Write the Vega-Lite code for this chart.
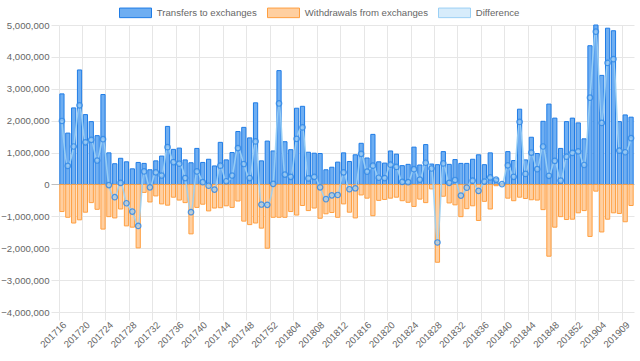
{
  "$schema": "https://vega.github.io/schema/vega-lite/v6.json",
  "width": 575,
  "height": 287,
  "autosize": "none",
  "padding": {"left": 59, "top": 25, "right": 6, "bottom": 49},
  "config": {
    "view": {"stroke": null},
    "font": "Liberation Sans",
    "axisY": {
      "title": null,
      "domain": false,
      "labelFontSize": 9.6,
      "labelColor": "#666666",
      "labelPadding": 2,
      "tickSize": 8,
      "tickColor": {"condition": {"test": "datum.value === 0", "value": "#bfbfbf"}, "value": "#e6e6e6"},
      "gridColor": {"condition": {"test": "datum.value === 0", "value": "#bfbfbf"}, "value": "#e6e6e6"}
    }
  },
  "data": {
    "values": [
      {"week":"201716","in":2840000,"out":-850000,"diff":1990000},
      {"week":"201717","in":1610000,"out":-1030000,"diff":580000},
      {"week":"201718","in":2400000,"out":-1210000,"diff":1190000},
      {"week":"201719","in":3590000,"out":-1110000,"diff":2480000},
      {"week":"201720","in":2190000,"out":-870000,"diff":1320000},
      {"week":"201721","in":1970000,"out":-570000,"diff":1400000},
      {"week":"201722","in":1530000,"out":-780000,"diff":750000},
      {"week":"201723","in":2820000,"out":-1400000,"diff":1420000},
      {"week":"201724","in":990000,"out":-1010000,"diff":-20000},
      {"week":"201725","in":650000,"out":-1050000,"diff":-400000},
      {"week":"201726","in":820000,"out":-770000,"diff":50000},
      {"week":"201727","in":710000,"out":-1300000,"diff":-590000},
      {"week":"201728","in":490000,"out":-1340000,"diff":-850000},
      {"week":"201729","in":690000,"out":-1990000,"diff":-1300000},
      {"week":"201730","in":660000,"out":-250000,"diff":410000},
      {"week":"201731","in":460000,"out":-550000,"diff":-90000},
      {"week":"201732","in":740000,"out":-360000,"diff":380000},
      {"week":"201733","in":890000,"out":-610000,"diff":280000},
      {"week":"201734","in":1820000,"out":-650000,"diff":1170000},
      {"week":"201735","in":1100000,"out":-400000,"diff":700000},
      {"week":"201736","in":1140000,"out":-490000,"diff":650000},
      {"week":"201737","in":770000,"out":-570000,"diff":200000},
      {"week":"201738","in":680000,"out":-1550000,"diff":-870000},
      {"week":"201739","in":1130000,"out":-720000,"diff":410000},
      {"week":"201740","in":690000,"out":-620000,"diff":70000},
      {"week":"201741","in":790000,"out":-830000,"diff":-40000},
      {"week":"201742","in":580000,"out":-740000,"diff":-160000},
      {"week":"201743","in":1320000,"out":-730000,"diff":590000},
      {"week":"201744","in":770000,"out":-670000,"diff":100000},
      {"week":"201745","in":1000000,"out":-720000,"diff":280000},
      {"week":"201746","in":1660000,"out":-520000,"diff":1140000},
      {"week":"201747","in":1790000,"out":-1150000,"diff":640000},
      {"week":"201748","in":1460000,"out":-1260000,"diff":200000},
      {"week":"201749","in":2560000,"out":-1210000,"diff":1350000},
      {"week":"201750","in":740000,"out":-1370000,"diff":-630000},
      {"week":"201751","in":1360000,"out":-2000000,"diff":-640000},
      {"week":"201752","in":1050000,"out":-1030000,"diff":20000},
      {"week":"201801","in":3570000,"out":-1030000,"diff":2540000},
      {"week":"201802","in":1340000,"out":-1030000,"diff":310000},
      {"week":"201803","in":1090000,"out":-850000,"diff":240000},
      {"week":"201804","in":2390000,"out":-960000,"diff":1430000},
      {"week":"201805","in":2450000,"out":-660000,"diff":1790000},
      {"week":"201806","in":1010000,"out":-820000,"diff":190000},
      {"week":"201807","in":980000,"out":-740000,"diff":240000},
      {"week":"201808","in":970000,"out":-1060000,"diff":-90000},
      {"week":"201809","in":460000,"out":-920000,"diff":-460000},
      {"week":"201810","in":540000,"out":-880000,"diff":-340000},
      {"week":"201811","in":700000,"out":-1030000,"diff":-330000},
      {"week":"201812","in":990000,"out":-610000,"diff":380000},
      {"week":"201813","in":720000,"out":-870000,"diff":-150000},
      {"week":"201814","in":930000,"out":-1050000,"diff":-120000},
      {"week":"201815","in":1290000,"out":-330000,"diff":960000},
      {"week":"201816","in":830000,"out":-430000,"diff":400000},
      {"week":"201817","in":1570000,"out":-980000,"diff":590000},
      {"week":"201818","in":710000,"out":-500000,"diff":210000},
      {"week":"201819","in":670000,"out":-470000,"diff":200000},
      {"week":"201820","in":1050000,"out":-430000,"diff":620000},
      {"week":"201821","in":950000,"out":-400000,"diff":550000},
      {"week":"201822","in":590000,"out":-510000,"diff":80000},
      {"week":"201823","in":630000,"out":-560000,"diff":70000},
      {"week":"201824","in":1170000,"out":-690000,"diff":480000},
      {"week":"201825","in":610000,"out":-460000,"diff":150000},
      {"week":"201826","in":1250000,"out":-570000,"diff":680000},
      {"week":"201827","in":640000,"out":-140000,"diff":500000},
      {"week":"201828","in":620000,"out":-2440000,"diff":-1820000},
      {"week":"201829","in":1030000,"out":-370000,"diff":660000},
      {"week":"201830","in":630000,"out":-580000,"diff":50000},
      {"week":"201831","in":780000,"out":-640000,"diff":140000},
      {"week":"201832","in":660000,"out":-1010000,"diff":-350000},
      {"week":"201833","in":660000,"out":-760000,"diff":-100000},
      {"week":"201834","in":790000,"out":-670000,"diff":120000},
      {"week":"201835","in":930000,"out":-1130000,"diff":-200000},
      {"week":"201836","in":620000,"out":-530000,"diff":90000},
      {"week":"201837","in":990000,"out":-770000,"diff":220000},
      {"week":"201838","in":190000,"out":-40000,"diff":150000},
      {"week":"201839","in":30000,"out":-20000,"diff":10000},
      {"week":"201840","in":1030000,"out":-430000,"diff":600000},
      {"week":"201841","in":750000,"out":-510000,"diff":240000},
      {"week":"201842","in":2360000,"out":-400000,"diff":1960000},
      {"week":"201843","in":770000,"out":-440000,"diff":330000},
      {"week":"201844","in":1480000,"out":-480000,"diff":1000000},
      {"week":"201845","in":970000,"out":-490000,"diff":480000},
      {"week":"201846","in":1980000,"out":-790000,"diff":1190000},
      {"week":"201847","in":2520000,"out":-2250000,"diff":270000},
      {"week":"201848","in":2080000,"out":-1340000,"diff":740000},
      {"week":"201849","in":1130000,"out":-1010000,"diff":120000},
      {"week":"201850","in":1970000,"out":-1100000,"diff":870000},
      {"week":"201851","in":2080000,"out":-1090000,"diff":990000},
      {"week":"201852","in":1930000,"out":-890000,"diff":1040000},
      {"week":"201901","in":1430000,"out":-820000,"diff":610000},
      {"week":"201902","in":4350000,"out":-1630000,"diff":2720000},
      {"week":"201903","in":5000000,"out":-210000,"diff":4790000},
      {"week":"201904","in":3420000,"out":-1490000,"diff":1930000},
      {"week":"201905","in":4900000,"out":-1090000,"diff":3810000},
      {"week":"201906","in":4820000,"out":-890000,"diff":3930000},
      {"week":"201907","in":1970000,"out":-910000,"diff":1060000},
      {"week":"201909","in":2180000,"out":-1170000,"diff":1010000},
      {"week":"201910","in":2110000,"out":-660000,"diff":1450000}
    ]
  },
  "encoding": {
    "x": {
      "field": "week",
      "type": "ordinal",
      "sort": null,
      "scale": {"paddingInner": 0.28, "paddingOuter": 0.14},
      "axis": {
        "title": null,
        "values": ["201716","201720","201724","201728","201732","201736","201740","201744","201748","201752","201804","201808","201812","201816","201820","201824","201828","201832","201836","201840","201844","201848","201852","201904","201909"],
        "bandPosition": -0.194,
        "labelOffset": 2.9,
        "labelAngle": -45,
        "labelAlign": "right",
        "labelBaseline": "middle",
        "labelFontSize": 9.6,
        "labelColor": "#666666",
        "labelPadding": 3,
        "labelOverlap": false,
        "labelBound": false,
        "labelFlush": false,
        "domain": false,
        "grid": true,
        "gridColor": "#e6e6e6",
        "tickColor": "#e6e6e6",
        "tickSize": 8
      }
    }
  },
  "layer": [
    {
      "mark": {"type": "bar", "strokeWidth": 1},
      "encoding": {
        "y": {
          "field": "in",
          "type": "quantitative",
          "scale": {"domain": [-4000000, 5000000], "nice": false},
          "axis": {"values": [-4000000,-3000000,-2000000,-1000000,0,1000000,2000000,3000000,4000000,5000000], "labelExpr": "format(datum.value, ',')"}
        },
        "fill": {
          "datum": "Transfers to exchanges",
          "scale": {"domain": ["Transfers to exchanges", "Withdrawals from exchanges", "Difference"], "range": ["#6eaef2", "#ffcfa0", "#d7ecfb"]},
          "legend": {
            "orient": "none", "legendX": 60, "legendY": -29, "direction": "horizontal", "title": null,
            "symbolType": "M-1,-0.3H1V0.3H-1Z", "symbolSize": 1024, "symbolStrokeWidth": 1,
            "labelFontSize": 9.6, "labelColor": "#666666", "labelOffset": 4.8, "columnPadding": 8, "padding": 0
          }
        },
        "stroke": {
          "datum": "Transfers to exchanges",
          "scale": {"domain": ["Transfers to exchanges", "Withdrawals from exchanges", "Difference"], "range": ["#1f7ce6", "#ff9f40", "#9bd0f5"]},
          "legend": {
            "orient": "none", "legendX": 60, "legendY": -29, "direction": "horizontal", "title": null,
            "symbolType": "M-1,-0.3H1V0.3H-1Z", "symbolSize": 1024, "symbolStrokeWidth": 1,
            "labelFontSize": 9.6, "labelColor": "#666666", "labelOffset": 4.8, "columnPadding": 8, "padding": 0
          }
        }
      }
    },
    {
      "mark": {"type": "bar", "strokeWidth": 1},
      "encoding": {
        "y": {
          "field": "out", "type": "quantitative",
          "scale": {"domain": [-4000000, 5000000], "nice": false},
          "axis": {"values": [-4000000,-3000000,-2000000,-1000000,0,1000000,2000000,3000000,4000000,5000000], "labelExpr": "format(datum.value, ',')"}
        },
        "fill": {"datum": "Withdrawals from exchanges"},
        "stroke": {"datum": "Withdrawals from exchanges"}
      }
    },
    {
      "mark": {"type": "line", "interpolate": "monotone", "strokeWidth": 1.6, "strokeOpacity": 0.9},
      "encoding": {
        "y": {
          "field": "diff", "type": "quantitative",
          "scale": {"domain": [-4000000, 5000000], "nice": false},
          "axis": {"values": [-4000000,-3000000,-2000000,-1000000,0,1000000,2000000,3000000,4000000,5000000], "labelExpr": "format(datum.value, ',')"}
        },
        "stroke": {"datum": "Difference"}
      }
    },
    {
      "mark": {"type": "point", "shape": "circle", "filled": true, "size": 30, "fill": "#9ccbf2", "fillOpacity": 0.55, "stroke": "#3289e6", "strokeWidth": 1.2, "strokeOpacity": 0.85},
      "encoding": {
        "y": {
          "field": "diff", "type": "quantitative",
          "scale": {"domain": [-4000000, 5000000], "nice": false},
          "axis": {"values": [-4000000,-3000000,-2000000,-1000000,0,1000000,2000000,3000000,4000000,5000000], "labelExpr": "format(datum.value, ',')"}
        }
      }
    }
  ]
}
